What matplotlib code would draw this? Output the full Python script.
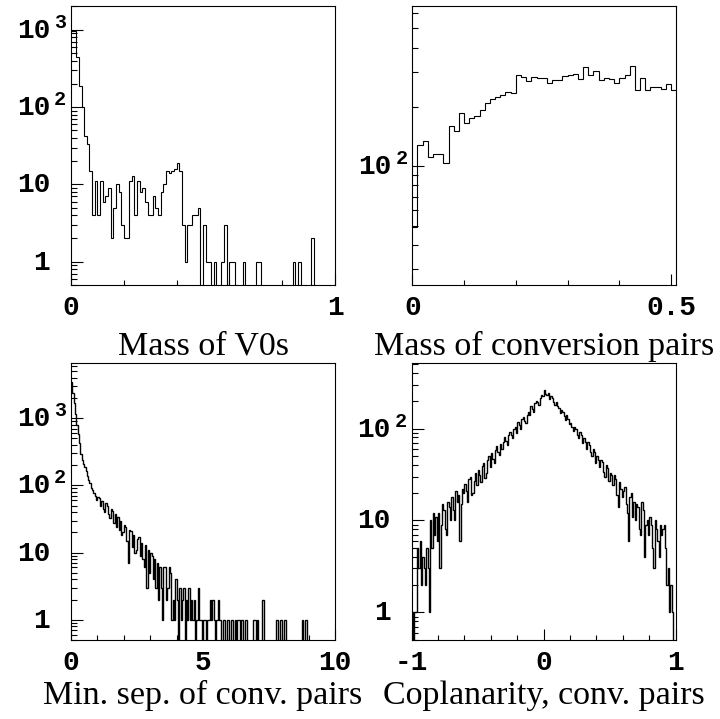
import numpy as np
import matplotlib
matplotlib.use('Agg')
import matplotlib.pyplot as plt
from matplotlib.ticker import LogLocator, NullFormatter

MONO = 'Liberation Mono'
SERIF = 'Liberation Serif'

# ── Данные (отсчёты гистограмм) ──────────────────────────────────────────────

v0_mass = [950, 950, 450, 185, 100, 42, 33, 15, 4, 11,
           4, 11, 6, 7, 9, 2, 5, 10, 8, 3,
           2, 2, 11, 13, 4, 11, 8, 9, 6, 4,
           4, 7, 5, 4, 8, 10, 15, 14, 15, 16,
           19, 15, 3, 1, 3, 3, 4, 4, 5, 0,
           3, 1, 1, 0, 1, 0, 0, 1, 3, 0,
           1, 1, 0, 0, 0, 1, 0, 0, 0, 0,
           1, 1, 0, 0, 0, 0, 0, 0, 0, 0,
           0, 0, 0, 0, 1, 0, 1, 0, 0, 0,
           0, 2, 0, 0, 0, 0, 0, 0, 0, 0]
v0_range = (0.0, 1.0)

conv_mass = [49, 128, 135, 111, 116, 116, 104, 160, 151, 187,
             166, 175, 179, 192, 210, 219, 225, 229, 238, 234,
             292, 284, 270, 284, 281, 281, 263, 275, 275, 286,
             290, 295, 277, 319, 292, 305, 273, 279, 277, 266,
             282, 292, 322, 243, 282, 245, 251, 251, 248, 260,
             243]
conv_range = (0.0, 0.51)

min_sep = [3400, 2400, 1700, 1150, 800, 580, 430, 290, 240, 205,
           185, 165, 140, 120, 108, 92, 86, 78, 70, 60,
           68, 64, 50, 58, 45, 40, 54, 49, 38, 33,
           44, 42, 28, 38, 24, 34, 22, 30, 18, 20,
           26, 24, 15, 7, 22, 21, 12, 18, 10, 11,
           16, 17, 9, 14, 8, 6, 13, 3, 11, 5,
           10, 9, 4, 8, 3, 7, 2, 6, 3, 1,
           6, 6, 2, 3, 6, 5, 1, 2, 1, 4,
           2, 0, 3, 1, 2, 3, 0, 2, 1, 3,
           1, 2, 1, 2, 0, 1, 3, 1, 1, 0,
           1, 1, 0, 1, 1, 2, 1, 2, 1, 0,
           1, 2, 1, 1, 0, 1, 1, 0, 1, 1,
           0, 1, 1, 0, 1, 0, 1, 1, 0, 1,
           0, 0, 1, 0, 0, 0, 0, 0, 1, 1,
           0, 1, 0, 0, 0, 2, 0, 0, 0, 0,
           0, 0, 0, 0, 0, 1, 1, 0, 1, 1,
           0, 1, 1, 0, 0, 0, 0, 0, 0, 0,
           0, 0, 0, 0, 0, 1, 0, 1, 1, 0,
           0, 0, 0, 0, 0, 0, 0, 0, 0, 0,
           0, 0, 0, 0, 0, 0, 0, 0, 0, 0]
sep_range = (0.0, 10.0)

coplan = [1, 0, 1, 1, 5, 3, 6, 2, 4, 3,
          2, 5, 3, 1, 10, 5, 12, 7, 11, 6,
          12, 3, 9, 15, 13, 8, 7, 16, 14, 10,
          18, 13, 10, 21, 16, 19, 6, 15, 22, 20,
          25, 21, 16, 28, 30, 19, 20, 27, 33, 24,
          35, 31, 26, 39, 42, 29, 33, 46, 50, 38,
          54, 47, 42, 58, 64, 56, 51, 68, 60, 72,
          80, 74, 66, 85, 92, 86, 78, 98, 105, 90,
          118, 108, 100, 126, 134, 122, 116, 142, 152, 140,
          175, 165, 150, 188, 200, 192, 180, 214, 232, 225,
          262, 240, 230, 245, 210, 228, 214, 195, 182, 196,
          176, 168, 148, 160, 150, 138, 124, 140, 126, 112,
          116, 104, 94, 104, 98, 85, 78, 92, 86, 70,
          78, 72, 60, 72, 66, 55, 50, 60, 56, 42,
          50, 46, 38, 46, 43, 34, 30, 40, 37, 27,
          33, 31, 24, 31, 28, 19, 14, 26, 22, 18,
          21, 23, 15, 12, 6, 18, 20, 11, 16, 10,
          15, 14, 8, 7, 16, 13, 4, 9, 10, 7,
          11, 9, 5, 3, 10, 8, 6, 4, 9, 7,
          8, 9, 5, 2, 3, 1, 2, 1, 0, 0]
coplan_range = (-1.0, 1.0)


# ── Оформление в стиле ROOT ───────────────────────────────────────────────────

fig = plt.figure(figsize=(7.2, 7.19), dpi=100)


def panel(rect, counts, xrange_, ylim, xmajor, xminor, xlabels, decades,
          title, title_y, lw=0.8):
    ax = fig.add_axes(rect)
    edges = np.linspace(xrange_[0], xrange_[1], len(counts) + 1)
    vals = np.asarray(counts, float)
    vals = np.where(vals > 0, vals, 1e-3)   # пустые бины уходят вниз
    ax.stairs(vals, edges, baseline=None, color='black', lw=lw)

    ax.set_yscale('log')
    ax.set_xlim(xrange_)
    ax.set_ylim(ylim)

    ax.yaxis.set_major_locator(LogLocator(base=10, numticks=20))
    ax.yaxis.set_minor_locator(LogLocator(base=10, subs=np.arange(2, 10),
                                          numticks=20))
    ax.yaxis.set_major_formatter(NullFormatter())
    ax.yaxis.set_minor_formatter(NullFormatter())

    ax.set_xticks(xmajor)
    ax.set_xticklabels(xlabels, family=MONO, fontsize=20, fontweight='bold')
    ax.set_xticks(xminor, minor=True)

    ax.tick_params(which='both', direction='in', top=False, right=False,
                   width=0.8)
    ax.tick_params(axis='y', which='major', length=8.6)
    ax.tick_params(axis='y', which='minor', length=4.3)
    ax.tick_params(axis='x', which='major', length=8, pad=7)
    ax.tick_params(axis='x', which='minor', length=3.6)
    for sp in ax.spines.values():
        sp.set_linewidth(0.8)

    tr = ax.get_yaxis_transform()
    for d in decades:
        v = 10.0 ** d
        base = '1' if d == 0 else '10'
        ax.annotate(base, (0, v), xycoords=tr, xytext=(-21, -8),
                    textcoords='offset pixels', ha='right', va='baseline',
                    family=MONO, fontsize=20, fontweight='bold',
                    annotation_clip=False)
        if d > 1:
            ax.annotate(str(d), (0, v), xycoords=tr, xytext=(-17, 2),
                        textcoords='offset pixels', ha='left', va='baseline',
                        family=MONO, fontsize=14.5, fontweight='bold',
                        annotation_clip=False)

    fig.text(rect[0] + rect[2] / 2, title_y, title, ha='center',
             va='baseline', family=SERIF, fontsize=24.5)
    return ax


W = 264 / 720
H_TOP = 279 / 719
H_BOT = 277.3 / 719

panel([71 / 720, 1 - 285 / 719, W, H_TOP], v0_mass, v0_range, (0.5, 2030),
      [0, 1], [0.2, 0.4, 0.6, 0.8], ['0', '1'], [0, 1, 2, 3],
      'Mass of V0s', 1 - 355 / 719)

panel([412.3 / 720, 1 - 285 / 719, W, H_TOP], conv_mass, conv_range,
      (25, 650), [0, 0.5], [0.1, 0.2, 0.3, 0.4], ['0', '0.5'], [2],
      'Mass of conversion pairs', 1 - 355 / 719)

panel([71 / 720, 1 - 640 / 719, W, H_BOT], min_sep, sep_range, (0.5, 6700),
      [0, 5, 10], [1, 2, 3, 4, 6, 7, 8, 9], ['0', '5', '10'], [0, 1, 2, 3],
      'Min. sep. of conv. pairs', 1 - 704 / 719, lw=1.0)

panel([411.7 / 720, 1 - 640 / 719, W, H_BOT], coplan, coplan_range,
      (0.5, 520), [-1, 0, 1], [-0.8, -0.6, -0.4, -0.2, 0.2, 0.4, 0.6, 0.8],
      ['-1', '0', '1'], [0, 1, 2],
      'Coplanarity, conv. pairs', 1 - 704 / 719, lw=1.0)

fig.savefig('out.png', dpi=100)
